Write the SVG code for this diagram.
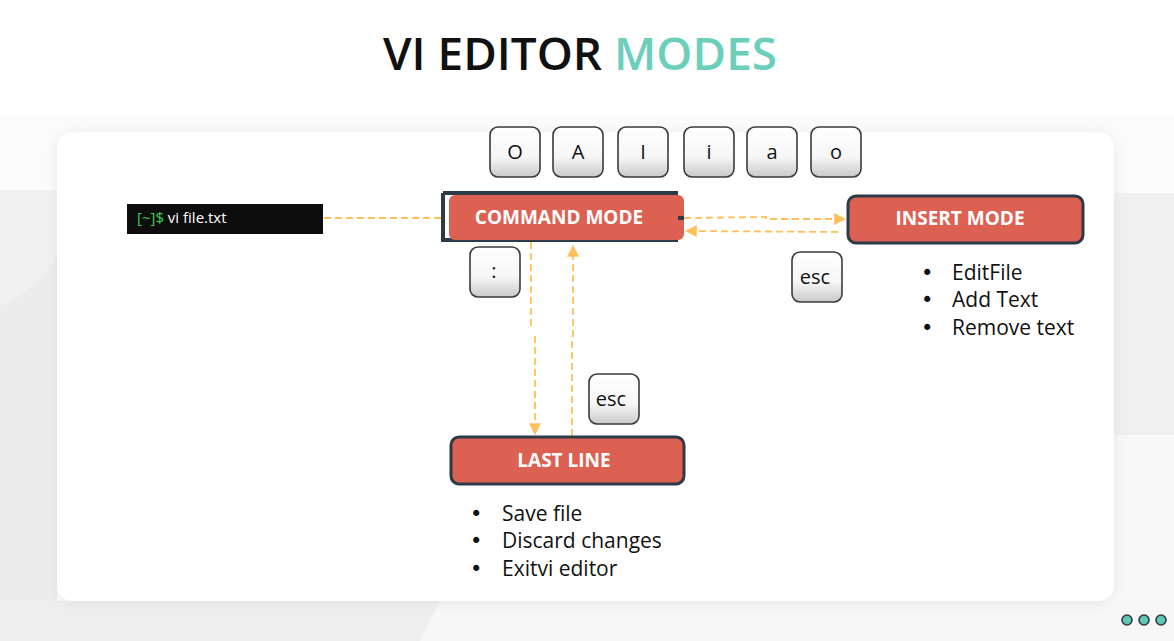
<svg xmlns="http://www.w3.org/2000/svg" width="1174" height="641" viewBox="0 0 1174 641">
<defs>
<style>
.key rect{fill:url(#kg);stroke:#3b3b3b;stroke-width:1.6}
.key text{font-family:"Open Sans","DejaVu Sans",sans-serif;font-size:20px;fill:#111;text-anchor:middle}
.mode{fill:#dd6152;stroke:#2d3a48;stroke-width:3}
.mlabel{font-family:"Open Sans","DejaVu Sans",sans-serif;font-weight:700;font-size:19px;fill:#fff;text-anchor:middle}
.li{font-family:"Open Sans","DejaVu Sans",sans-serif;font-size:21px;fill:#111}
.bu{font-family:"DejaVu Sans",sans-serif;font-size:21px;fill:#111}
.conn{fill:none;stroke:#ffc05a;stroke-width:1.8;stroke-dasharray:7 4}
</style>
<linearGradient id="kg" x1="0" y1="0" x2="0" y2="1">
<stop offset="0" stop-color="#ffffff"/><stop offset="0.6" stop-color="#f6f6f6"/><stop offset="1" stop-color="#c9c9c9"/>
</linearGradient>
<filter id="sh" x="-5%" y="-5%" width="110%" height="115%"><feGaussianBlur stdDeviation="6"/></filter>
<marker id="ah2" viewBox="0 0 10 10" refX="9" refY="5" markerWidth="12" markerHeight="12" markerUnits="userSpaceOnUse" orient="auto"><path d="M0,0 L10,5 L0,10 z" fill="#ffc05a"/></marker>
</defs>
<!-- background -->
<rect width="1174" height="641" fill="#ffffff"/>
<rect x="0" y="115" width="1174" height="526" fill="#fbfbfb"/>
<rect x="1114" y="193" width="60" height="242" fill="#f0f0f0"/>
<rect x="1114" y="435" width="60" height="206" fill="#f8f8f8"/>
<rect x="0" y="190" width="57" height="420" fill="#f0f0f0"/>
<path d="M0,305 Q40,290 57,255 L57,610 L0,610 Z" fill="#ececec"/>
<rect x="0" y="601" width="1174" height="40" fill="#f7f7f7"/>
<path d="M0,601 L440,601 L420,641 L0,641 Z" fill="#eeeeee"/>
<!-- card -->
<rect x="57" y="134" width="1057" height="469" rx="15" fill="#d9d9d9" opacity="0.6" filter="url(#sh)"/>
<rect x="57" y="132" width="1057" height="469" rx="15" fill="#ffffff"/>
<!-- title -->
<text x="580" y="70" text-anchor="middle" font-family="'Open Sans','DejaVu Sans',sans-serif" font-weight="600" font-size="45" textLength="394" lengthAdjust="spacingAndGlyphs"><tspan fill="#111111">VI EDITOR </tspan><tspan fill="#6ccfbc">MODES</tspan></text>
<!-- connectors -->
<g id="connectors">
<path class="conn" d="M324,218 L441,218"/>
<path class="conn" d="M684,218 L766,217 L766,219 L845,219" marker-end="url(#ah2)"/>
<path class="conn" d="M838,232 L686,231" marker-end="url(#ah2)"/>
<path class="conn" d="M531,242 L531,326 M535,336 L535,434" stroke-dasharray="8 3 2 3" marker-end="url(#ah2)"/>
<path class="conn" d="M572,436 L572,340 L573,335 L573,246" marker-end="url(#ah2)"/>
</g>
<!-- terminal -->
<g id="terminal">
<rect x="127" y="204" width="196" height="30" fill="#0d0d0d"/>
<text x="137" y="223" font-family="'Open Sans','DejaVu Sans',sans-serif" font-size="15"><tspan fill="#3fcf5e">[~]$</tspan><tspan fill="#ffffff"> vi file.txt</tspan></text>
</g>
<!-- command mode -->
<g id="command-mode">
<path d="M443,193 L678,193 M443,193 L443,240 L678,240" fill="none" stroke="#2d3a48" stroke-width="4"/>
<rect x="449" y="195" width="235" height="45" rx="6" fill="#dd6152"/>
<rect x="678" y="216" width="6" height="4" fill="#2d3a48"/>
<text class="mlabel" x="559" y="224">COMMAND MODE</text>
</g>
<!-- insert mode -->
<g id="insert-mode">
<rect class="mode" x="848" y="196" width="235" height="47" rx="8"/>
<text class="mlabel" x="960" y="225">INSERT MODE</text>
</g>
<g id="insert-list">
<text class="bu" x="921" y="280">•</text><text class="li" x="952" y="280">EditFile</text>
<text class="bu" x="921" y="307">•</text><text class="li" x="952" y="307">Add Text</text>
<text class="bu" x="921" y="335">•</text><text class="li" x="952" y="335">Remove text</text>
</g>
<!-- last line -->
<g id="last-line">
<rect class="mode" x="451" y="437" width="233" height="47" rx="8"/>
<text class="mlabel" x="564" y="467">LAST LINE</text>
</g>
<g id="last-list">
<text class="bu" x="470" y="521">•</text><text class="li" x="502" y="521">Save file</text>
<text class="bu" x="470" y="548">•</text><text class="li" x="502" y="548">Discard changes</text>
<text class="bu" x="470" y="576">•</text><text class="li" x="502" y="576">Exitvi editor</text>
</g>
<!-- keys -->
<g id="key-O" class="key"><rect x="490" y="127" width="50" height="50" rx="8"/><text x="515" y="159">O</text></g>
<g id="key-A" class="key"><rect x="553" y="127" width="50" height="50" rx="8"/><text x="578" y="159">A</text></g>
<g id="key-I" class="key"><rect x="618" y="127" width="50" height="50" rx="8"/><text x="643" y="159">I</text></g>
<g id="key-i" class="key"><rect x="684" y="127" width="50" height="50" rx="8"/><text x="709" y="159">i</text></g>
<g id="key-a" class="key"><rect x="747" y="127" width="50" height="50" rx="8"/><text x="772" y="159">a</text></g>
<g id="key-o" class="key"><rect x="811" y="127" width="50" height="50" rx="8"/><text x="836" y="159">o</text></g>
<g id="key-colon" class="key"><rect x="470" y="247" width="50" height="50" rx="8"/><text x="494" y="278">:</text></g>
<g id="key-esc1" class="key"><rect x="792" y="252" width="50" height="50" rx="8"/><text x="815" y="284">esc</text></g>
<g id="key-esc2" class="key"><rect x="589" y="374" width="50" height="50" rx="8"/><text x="611" y="406">esc</text></g>
<!-- dots -->
<g id="dots" fill="#5ec8b4" stroke="#2d3a48" stroke-width="1.6">
<circle cx="1127" cy="620" r="5"/><circle cx="1144" cy="620" r="5"/><circle cx="1161" cy="620" r="5"/>
</g>
</svg>
